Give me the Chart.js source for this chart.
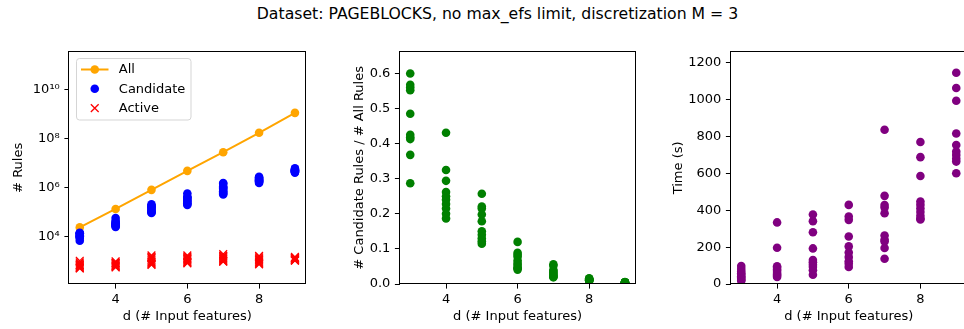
<!DOCTYPE html>
<html>
<head>
<meta charset="utf-8">
<script src="https://cdn.jsdelivr.net/npm/chart.js@4.4.1/dist/chart.umd.min.js"></script>
<style>
  html, body { margin: 0; padding: 0; background: #fff; width: 964px; height: 329px; overflow: hidden; position: relative; }
  #suptitle { position: absolute; left: 0; top: 5px; width: 995px; text-align: center;
              font-family: 'DejaVu Sans', sans-serif; font-size: 15.7px; line-height: 18px; color: #000; white-space: nowrap; }
  canvas { position: absolute; top: 0; }
</style>
</head>
<body>
<div id="suptitle">Dataset: PAGEBLOCKS, no max_efs limit, discretization M = 3</div>
<canvas id="rules" width="320" height="329" style="left:0px"></canvas>
<canvas id="ratio" width="320" height="329" style="left:330px"></canvas>
<canvas id="time" width="320" height="329" style="left:660px"></canvas>
<script>
// number of input features d
const dValues = [3, 4, 5, 6, 7, 8, 9];

// total number of rules for each d
const allRules = [2.4e4, 1.35e5, 8.1e5, 4.8e6, 2.75e7, 1.7e8, 1.1e9];

// candidate rules, one row per d (ten runs each)
const candidateRules = [
  [14400, 13600, 13400, 13250, 11600, 10200, 10000, 9900, 8800, 6900],
  [58200, 43900, 39700, 35400, 33800, 32400, 30800, 29000, 27000, 25200],
  [208000, 179000, 174000, 160000, 145000, 121500, 113400, 105300, 98800, 93200],
  [576000, 427000, 398000, 374000, 322000, 288000, 264000, 230000, 216000, 197000],
  [1540000, 1430000, 1100000, 1018000, 908000, 798000, 715000, 633000, 578000, 523000],
  [2720000, 2550000, 2380000, 2210000, 2040000, 1990000, 1870000, 1750000, 1700000, 1530000],
  [6050000, 5500000, 5280000, 5060000, 4950000, 4840000, 4620000, 4400000, 4290000, 4070000]
];

// active rules, one row per d
const activeRules = [
  [1050, 900, 800, 720, 650, 600, 560, 530, 510, 700],
  [1000, 900, 820, 760, 700, 650, 620, 590, 560, 850],
  [1750, 1500, 1300, 1150, 1000, 900, 820, 760, 720, 1400],
  [1750, 1550, 1400, 1250, 1150, 1050, 950, 880, 830, 1300],
  [1950, 1700, 1500, 1350, 1250, 1150, 1050, 1000, 960, 1600],
  [1650, 1450, 1300, 1150, 1050, 950, 870, 800, 750, 1200],
  [1500, 1400, 1320, 1250, 1200, 1150, 1100, 1080, 1070, 1350]
];

// candidate rules / all rules, one row per d
const candidateRatio = [
  [0.600, 0.568, 0.560, 0.552, 0.485, 0.425, 0.418, 0.413, 0.368, 0.287],
  [0.431, 0.325, 0.294, 0.262, 0.250, 0.240, 0.228, 0.215, 0.200, 0.187],
  [0.257, 0.221, 0.215, 0.198, 0.179, 0.150, 0.140, 0.130, 0.122, 0.115],
  [0.120, 0.089, 0.083, 0.078, 0.067, 0.060, 0.055, 0.048, 0.045, 0.041],
  [0.056, 0.052, 0.040, 0.037, 0.033, 0.029, 0.026, 0.023, 0.021, 0.019],
  [0.016, 0.015, 0.014, 0.013, 0.012, 0.012, 0.011, 0.010, 0.010, 0.009],
  [0.0055, 0.0050, 0.0048, 0.0046, 0.0045, 0.0044, 0.0042, 0.0040, 0.0039, 0.0037]
];

// run time in seconds, one row per d
const timeSeconds = [
  [98, 82, 68, 58, 50, 42, 35, 28, 22, 18],
  [334, 197, 96, 88, 78, 70, 60, 52, 45, 38],
  [377, 341, 281, 193, 130, 118, 105, 92, 75, 50],
  [429, 366, 348, 258, 204, 171, 146, 123, 110, 92],
  [837, 478, 428, 415, 384, 263, 240, 231, 195, 137],
  [770, 688, 586, 447, 430, 410, 390, 370, 355, 350],
  [1146, 1063, 994, 816, 754, 718, 700, 680, 664, 601]
];

// tick positions
const dTicks = [4, 6, 8];
const rulesTicks = [1e4, 1e6, 1e8, 1e10];
const ratioTicks = [0.0, 0.1, 0.2, 0.3, 0.4, 0.5, 0.6];
const timeTicks = [0, 200, 400, 600, 800, 1000, 1200];

const FONT = "'DejaVu Sans', sans-serif";
Chart.defaults.font.family = FONT;
Chart.defaults.font.size = 13;
Chart.defaults.color = '#000';
Chart.defaults.animation = false;

const SUP = { '0': '\u2070', '1': '\u00b9', '2': '\u00b2', '3': '\u00b3', '4': '\u2074',
              '5': '\u2075', '6': '\u2076', '7': '\u2077', '8': '\u2078', '9': '\u2079' };
function powerLabel(v) {
  const e = String(Math.round(Math.log10(v)));
  return '10' + e.split('').map(c => SUP[c]).join('');
}

// flatten per-d rows into scatter points
function columnPoints(rows) {
  const out = [];
  rows.forEach((row, i) => row.forEach(v => out.push({ x: dValues[i], y: v })));
  return out;
}

// black box around the plot area
const framePlugin = {
  id: 'frame',
  afterDatasetsDraw(chart) {
    const { ctx, chartArea: a } = chart;
    ctx.save();
    ctx.strokeStyle = '#000';
    ctx.lineWidth = 1;
    const l = Math.round(a.left) - 0.5, t = Math.round(a.top) - 0.5;
    const r = Math.round(a.right) - 0.5, b = Math.round(a.bottom) - 0.5;
    ctx.strokeRect(l, t, r - l, b - t);
    ctx.restore();
  }
};

// boxed legend in the upper-left corner of the plot area
const legendPlugin = {
  id: 'boxLegend',
  afterDraw(chart, args, opts) {
    if (!opts || !opts.show) return;
    const { ctx, chartArea: a } = chart;
    const x0 = Math.round(a.left) + 7.5, y0 = Math.round(a.top) + 6.5, w = 114.5, h = 61.5;
    ctx.save();
    ctx.beginPath();
    ctx.roundRect(x0, y0, w, h, 3);
    ctx.fillStyle = 'rgba(255,255,255,0.8)';
    ctx.fill();
    ctx.strokeStyle = '#d5d5d5';
    ctx.lineWidth = 1;
    ctx.stroke();
    const hx0 = x0 + 4.5, hx1 = x0 + 32, hc = (hx0 + hx1) / 2;
    chart.data.datasets.forEach((ds, i) => {
      const y = y0 + 11 + i * 19.3;
      if (ds.showLine) {
        ctx.strokeStyle = ds.borderColor;
        ctx.lineWidth = ds.borderWidth;
        ctx.beginPath(); ctx.moveTo(hx0, y); ctx.lineTo(hx1, y); ctx.stroke();
      }
      if (ds.pointStyle === 'crossRot') {
        const s = 3.9;
        ctx.strokeStyle = ds.pointBorderColor;
        ctx.lineWidth = ds.pointBorderWidth;
        ctx.beginPath();
        ctx.moveTo(hc - s, y - s); ctx.lineTo(hc + s, y + s);
        ctx.moveTo(hc - s, y + s); ctx.lineTo(hc + s, y - s);
        ctx.stroke();
      } else {
        ctx.fillStyle = ds.pointBackgroundColor;
        ctx.beginPath(); ctx.arc(hc, y, ds.pointRadius, 0, Math.PI * 2); ctx.fill();
      }
      ctx.fillStyle = '#000';
      ctx.font = '13px ' + FONT;
      ctx.textBaseline = 'middle';
      ctx.textAlign = 'left';
      ctx.fillText(ds.label, x0 + 42.3, y + 0.5);
    });
    ctx.restore();
  }
};

function xAxis() {
  return {
    type: 'linear', min: 2.7, max: 9.3,
    afterBuildTicks: s => { s.ticks = dTicks.map(v => ({ value: v })); },
    afterFit: s => { s.height = 45; },
    grid: { drawOnChartArea: false, drawTicks: true, tickLength: 4.6, tickColor: '#000', tickWidth: 1 },
    border: { display: false },
    ticks: { padding: 3, color: '#000', font: { size: 13 }, maxRotation: 0, autoSkip: false },
    title: { display: true, text: 'd (# Input features)', color: '#000', font: { size: 13 },
             padding: { top: 0, bottom: 5 } }
  };
}

function yAxis(cfg) {
  return Object.assign({
    afterFit: s => { s.width = cfg.width; },
    afterBuildTicks: s => { s.ticks = cfg.tickValues.map(v => ({ value: v })); },
    grid: { drawOnChartArea: false, drawTicks: true, tickLength: 4.6, tickColor: '#000', tickWidth: 1 },
    border: { display: false },
    ticks: { padding: 4.6, color: '#000', font: { size: 13 }, autoSkip: false, callback: cfg.format },
    title: { display: true, text: cfg.title, color: '#000', font: { size: 13 },
             padding: { top: cfg.titlePad, bottom: 0 } }
  }, cfg.base);
}

function makeChart(id, datasets, y, padRight, showLegend) {
  return new Chart(document.getElementById(id), {
    type: 'scatter',
    data: { datasets },
    options: {
      responsive: false,
      animation: false,
      events: [],
      layout: { padding: { top: 51.7, right: padRight, left: 0, bottom: 0 } },
      plugins: { legend: { display: false }, tooltip: { enabled: false }, boxLegend: { show: showLegend } },
      scales: { x: xAxis(), y: y }
    },
    plugins: [framePlugin, legendPlugin]
  });
}

function dots(label, rows, color, order) {
  return { label, data: columnPoints(rows), showLine: false, pointStyle: 'circle',
           pointRadius: 4.3, pointBorderWidth: 0, pointBackgroundColor: color,
           pointBorderColor: color, backgroundColor: color, borderColor: color, clip: 0, order };
}

// # rules on a log scale
makeChart('rules', [
  { label: 'All', data: dValues.map((d, i) => ({ x: d, y: allRules[i] })), showLine: true,
    borderColor: '#ffa500', backgroundColor: '#ffa500', borderWidth: 2, pointStyle: 'circle',
    pointRadius: 4.3, pointBorderWidth: 0, pointBackgroundColor: '#ffa500', pointBorderColor: '#ffa500',
    clip: 0, order: 2 },
  dots('Candidate', candidateRules, '#0000ff', 0),
  { label: 'Active', data: columnPoints(activeRules), showLine: false, pointStyle: 'crossRot',
    pointRadius: 5.5, pointBorderWidth: 1.3, pointBorderColor: '#ff0000', pointBackgroundColor: 'rgba(0,0,0,0)',
    borderColor: '#ff0000', clip: 0, order: 1 }
], yAxis({ base: { type: 'logarithmic', min: 119, max: 3.4e11 }, width: 69, tickValues: rulesTicks,
           format: v => powerLabel(v), title: '# Rules', titlePad: 10.5 }), 14.3, true);

// candidate share
makeChart('ratio', [dots('ratio', candidateRatio, '#008000', 0)],
  yAxis({ base: { type: 'linear', min: 0, max: 0.662 }, width: 69.5, tickValues: ratioTicks,
          format: v => v.toFixed(1), title: '# Candidate Rules / # All Rules', titlePad: 21.5 }), 14.3, false);

// run time
makeChart('time', [dots('time', timeSeconds, '#800080', 0)],
  yAxis({ base: { type: 'linear', min: 0, max: 1260 }, width: 70.5, tickValues: timeTicks,
          format: v => String(v), title: 'Time (s)', titlePad: 10.5 }), 13, false);
</script>
</body>
</html>
